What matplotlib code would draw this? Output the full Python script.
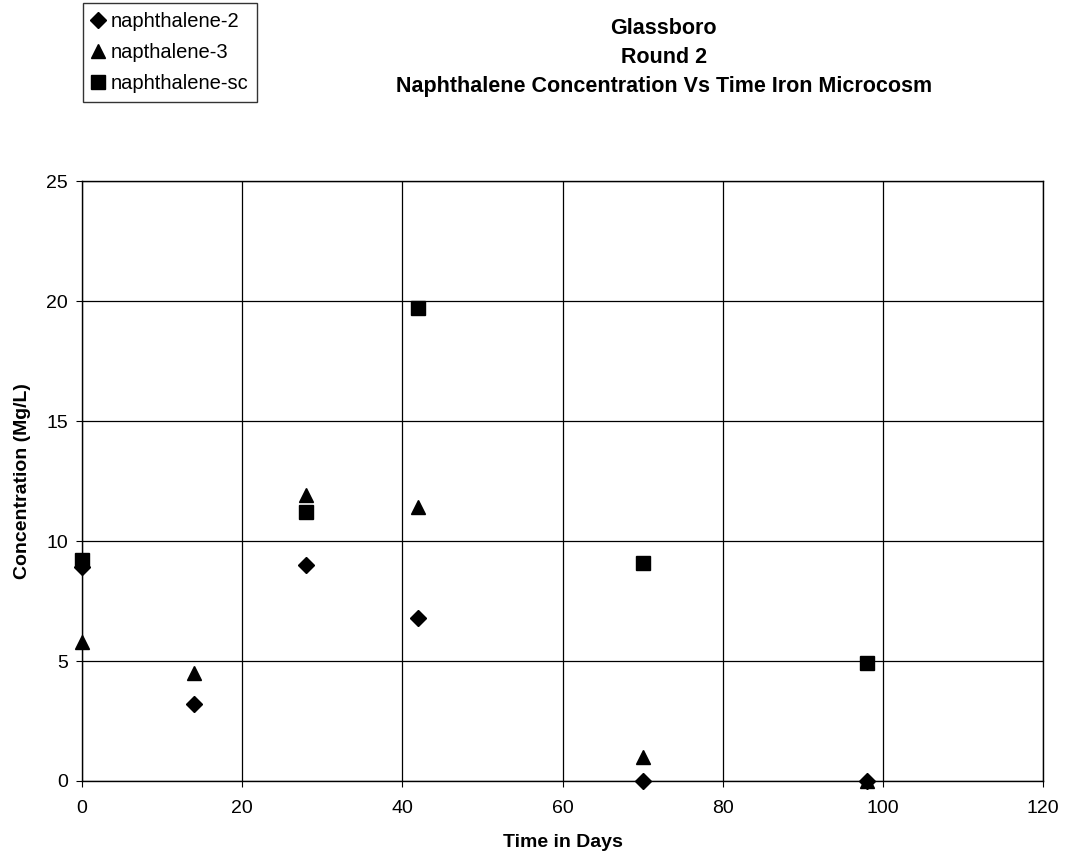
import matplotlib
matplotlib.use('Agg')
import matplotlib.pyplot as plt
import numpy as np

plt.rcParams['font.family'] = ['Liberation Sans', 'DejaVu Sans']

days_2 = [0, 14, 28, 42, 70, 98]
naph_2 = [8.9, 3.2, 9.0, 6.8, 0.0, 0.0]
days_3 = [0, 14, 28, 42, 70, 98]
naph_3 = [5.8, 4.5, 11.9, 11.4, 1.0, 0.0]
days_sc = [0, 28, 42, 70, 98]
naph_sc = [9.2, 11.2, 19.7, 9.1, 4.9]

fig = plt.figure(figsize=(10.67, 8.57), dpi=100)
ax = fig.add_axes([0.0769, 0.0887, 0.9006, 0.700])

h1, = ax.plot(days_2, naph_2, 'D', color='black', ms=8.5, linestyle='none', clip_on=False, zorder=3)
h2, = ax.plot(days_3, naph_3, '^', color='black', ms=10, linestyle='none', clip_on=False, zorder=3)
h3, = ax.plot(days_sc, naph_sc, 's', color='black', ms=10, linestyle='none', clip_on=False, zorder=3)

ax.set_xlim(0, 120)
ax.set_ylim(0, 25)
ax.set_xticks(np.arange(0, 121, 20))
ax.set_yticks(np.arange(0, 26, 5))
ax.grid(True, color='black', linewidth=0.9)
ax.set_axisbelow(True)
for s in ax.spines.values():
    s.set_color('black')
    s.set_linewidth(1.0)
ax.tick_params(direction='out', length=4, labelsize=14, colors='black')
ax.tick_params(axis='x', pad=10)
ax.tick_params(axis='y', pad=6)
ax.set_xlabel('Time in Days', fontsize=14, fontweight='bold', labelpad=12)
ax.set_ylabel('Concentration (Mg/L)', fontsize=14, fontweight='bold', labelpad=11)

fig.text(0.622, 0.979, 'Glassboro\nRound 2\nNaphthalene Concentration Vs Time Iron Microcosm',
         ha='center', va='top', fontsize=15.5, fontweight='bold', linespacing=1.5)

leg = fig.legend([h1, h2, h3], ['naphthalene-2', 'napthalene-3', 'naphthalene-sc'],
                 loc='upper left', bbox_to_anchor=(0.078, 0.997), fontsize=14.5,
                 frameon=True, fancybox=False, edgecolor='black', handlelength=0.6,
                 handletextpad=0.3, borderpad=0.45, labelspacing=0.6, borderaxespad=0)
leg.get_frame().set_linewidth(1.0)

fig.savefig('out.png', dpi=100)
